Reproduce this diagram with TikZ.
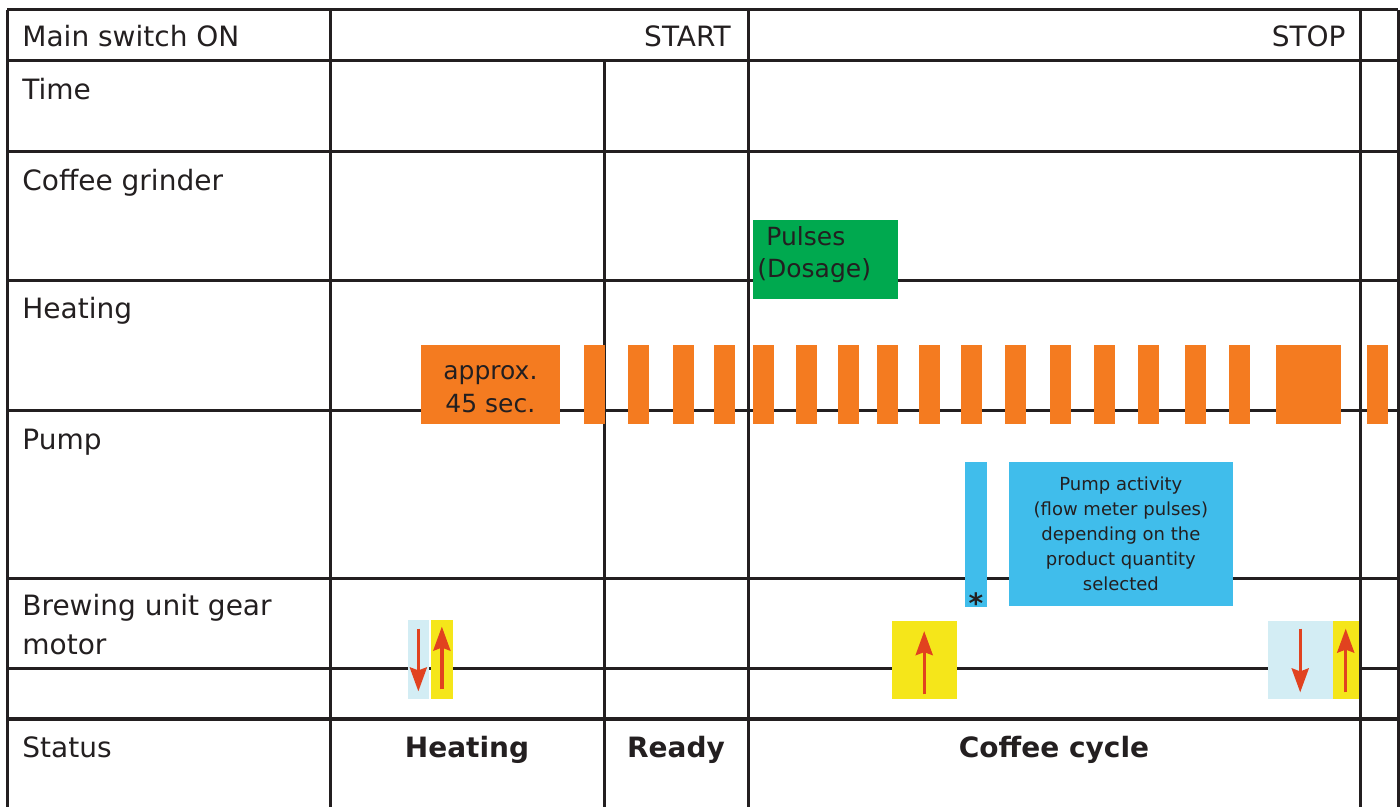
\documentclass[tikz,border=0pt]{standalone}
\usepackage{fontspec}
\setmainfont{DejaVu Sans}
\usepackage{tikz}
\usetikzlibrary{arrows.meta}
\definecolor{gridline}{HTML}{231F20}
\definecolor{heatorange}{HTML}{F47B20}
\definecolor{grindgreen}{HTML}{00A94F}
\definecolor{pumpblue}{HTML}{40BDEB}
\definecolor{motorpale}{HTML}{D3EDF4}
\definecolor{motoryellow}{HTML}{F5E61A}
\definecolor{motorred}{HTML}{E1421F}

\begin{document}
\begin{tikzpicture}[x=0.5pt, y=-0.5pt,
	tableline/.style={draw=gridline, line width=1.5pt, line cap=square},
	rowlabel/.style={anchor=base west, inner sep=0, text=gridline, font=\fontsize{14}{17}\selectfont},
	marklabel/.style={anchor=base east, inner sep=0, text=gridline, font=\fontsize{14}{17}\selectfont},
	phaselabel/.style={anchor=base, inner sep=0, text=gridline, font=\fontsize{14}{17}\selectfont\bfseries},
	colbox/.style={rectangle, inner sep=0, draw=none, text=gridline},
	motorarrow/.style={draw=motorred, line width=1.7pt, -{Stealth[width=8.5pt, length=12pt, inset=1.5pt]}}]
		\useasboundingbox (0,0) rectangle (1400,807);
		
		% table
		\foreach \y in {10,61,152,281,410,578,668}
			\draw[tableline] (7,\y) -- (1398,\y);
		\draw[tableline, line width=2pt] (7,719) -- (1398,719);
		\foreach \x in {7,330,748,1360,1398}
			\draw[tableline] (\x,10) -- (\x,807);
		\draw[tableline] (604,61) -- (604,807);
		
		\node[rowlabel] (mainsw) at (22,47) {Main switch ON};
		\node[marklabel] (start) at (731,47) {START};
		\node[marklabel] (stop) at (1346,47) {STOP};
		\node[rowlabel] (time) at (22,100) {Time};
		\node[rowlabel] (grinder) at (22,191) {Coffee grinder};
		\node[rowlabel] (heating) at (22,319) {Heating};
		\node[rowlabel] (pump) at (22,449) {Pump};
		\node[rowlabel] (gear) at (22,615) {Brewing unit gear};
		\node[rowlabel] (motor) at (22,654) {motor};
		\node[rowlabel] (status) at (22,757) {Status};
		\node[phaselabel] (phheat) at (467,757) {Heating};
		\node[phaselabel] (phready) at (676,757) {Ready};
		\node[phaselabel] (phcoffee) at (1054,757) {Coffee cycle};
		
		% heating
		\fill[heatorange] (420.7,345) rectangle (560,423.7);
		\node[colbox, align=center, font=\fontsize{12.5}{16.5}\selectfont] (warmup) at (490.4,389) {approx.\\45 sec.};
		\foreach \x in {584,628,673,714,753,796,838,877,919,961,1005,1050,1094,1138,1185,1229,1367}
			\fill[heatorange] (\x,345) rectangle ++(21,78.5);
		\fill[heatorange] (1276,345) rectangle (1341,423.5);
		
		% grinder
		\fill[grindgreen] (753,220) rectangle (898,299);
		\node[colbox, anchor=west, text width=68.5pt, align=left, font=\fontsize{12.5}{16}\selectfont] (dosage) at (757,255) {\hspace*{4.5pt}Pulses\\(Dosage)};
		
		% pump
		\fill[pumpblue] (965,462) rectangle (987,607);
		\node[anchor=base, inner sep=0, text=gridline, font=\fontsize{14}{17}\selectfont\bfseries] (star) at (976,613) {*};
		\node[colbox, fill=pumpblue, minimum width=111.85pt, minimum height=71.75pt, align=center, font=\fontsize{9}{12.5}\selectfont] (pumpact) at (1120.85,533.75) {Pump activity\\(flow meter pulses)\\depending on the\\product quantity\\selected};
		
		% gear motor
		\node[colbox, fill=motorpale, minimum width=10.65pt, minimum height=39.75pt] (lower1) at (418.35,659.25) {};
		\node[colbox, fill=motoryellow, minimum width=10.85pt, minimum height=39.75pt] (raise1) at (441.85,659.25) {};
		\node[colbox, fill=motoryellow, minimum width=32.5pt, minimum height=39.25pt] (raise2) at (924.2,659.75) {};
		\node[colbox, fill=motorpale, minimum width=32.5pt, minimum height=39.25pt] (lower3) at (1300.2,659.75) {};
		\node[colbox, fill=motoryellow, minimum width=13pt, minimum height=39.25pt] (raise3) at (1345.7,659.75) {};
		
		\draw[motorarrow] ([yshift=-4.75pt]lower1.north) -- ([yshift=4pt]lower1.south);
		\draw[motorarrow] ([yshift=5pt]raise1.south) -- ([yshift=-3.75pt]raise1.north);
		\draw[motorarrow] ([yshift=2.5pt]raise2.south) -- ([yshift=-5.5pt]raise2.north);
		\draw[motorarrow] ([yshift=-4.25pt]lower3.north) -- ([yshift=3.5pt]lower3.south);
		\draw[motorarrow] ([yshift=3.5pt]raise3.south) -- ([yshift=-4.25pt]raise3.north);
	\end{tikzpicture}
\end{document}
